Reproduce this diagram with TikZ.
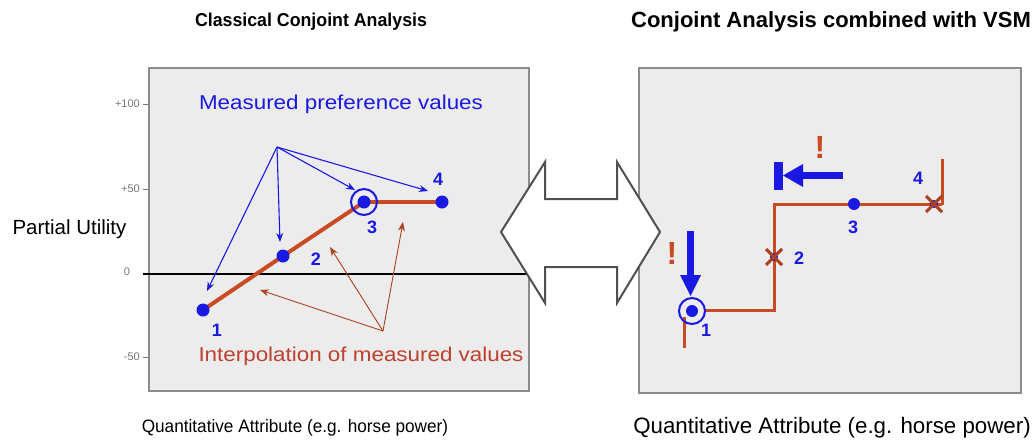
\documentclass[tikz,border=0pt]{standalone}
\usepackage{fontspec}
\setmainfont{Liberation Sans}
\usetikzlibrary{arrows.meta,calc}
\definecolor{cblue}{RGB}{25,25,225}
\definecolor{cred}{RGB}{200,75,35}
\definecolor{ctext}{RGB}{190,65,45}
\definecolor{panelfill}{RGB}{236,236,236}
\definecolor{framegray}{RGB}{140,140,140}
\definecolor{axisgray}{RGB}{120,120,120}
\definecolor{arrgray}{RGB}{80,80,80}
\tikzset{
  panelbox/.style={draw=framegray, line width=1.5pt, fill=panelfill, anchor=north west, inner sep=0pt},
  bigdot/.style={circle, fill=cblue, inner sep=0pt, minimum size=13pt},
  middot/.style={circle, fill=cblue, inner sep=0pt, minimum size=12pt},
  smalldot/.style={circle, fill=cblue, inner sep=0pt, minimum size=8pt},
  ring/.style={circle, draw=cblue, line width=2pt, inner sep=0pt, minimum size=26pt},
  numlbl/.style={text=cblue, font=\fontsize{18}{20}\selectfont\bfseries, inner sep=0pt},
  ticklbl/.style={text=axisgray, font=\fontsize{11}{13}\selectfont, inner sep=0pt},
  barrow/.style={cblue, line width=1.1pt, -{Stealth[length=9pt,width=7pt]}},
  rarrow/.style={cred!85!black, line width=0.9pt, -{Stealth[length=9pt,width=7pt]}},
  interp/.style={cred, line width=4pt},
  vsmline/.style={cred, line width=3pt},
  cross/.style={draw=cred!85!black, line width=3pt},
  bang/.style={text=cred, font=\fontsize{32}{34}\selectfont\bfseries, inner sep=0pt},
  bluesolid/.style={fill=cblue, draw=none},
}
\begin{document}
\begin{tikzpicture}[x=1pt,y=-1pt]
\useasboundingbox (0,0) rectangle (1035,442);
\fill[white] (0,0) rectangle (1035,442);

% titles
\node[font=\fontsize{18.6}{20}\selectfont\bfseries\addfontfeature{FakeStretch=0.955}, inner sep=0pt] (t1) at (311,22) {Classical Conjoint Analysis};
\node[font=\fontsize{22}{24}\selectfont\bfseries, inner sep=0pt] (t2) at (831,22) {Conjoint Analysis combined with VSM};

% panels
\node[panelbox, minimum width=380pt, minimum height=323pt] (P1) at (148,67) {};
\node[panelbox, minimum width=382pt, minimum height=325pt] (P2) at (638,67) {};

% axis labels
\node[font=\fontsize{20.5}{22}\selectfont, inner sep=0pt] (pu) at (69.5,229) {Partial Utility};
\node[font=\fontsize{18}{20}\selectfont\addfontfeature{FakeStretch=0.955}, inner sep=0pt] (q1) at (295,428) {Quantitative Attribute (e.g. horse power)};
\node[font=\fontsize{22.3}{24}\selectfont, inner sep=0pt] (q2) at (832,428) {Quantitative Attribute (e.g. horse power)};

% ticks
\coordinate (z0) at (143,274); \coordinate (z1) at (528,274);
\draw[black, line width=1.3pt] (z0) -- (z1);
\foreach \yy/\lab in {104/+100,189/+50,357/-50}{
  \draw[axisgray, line width=0.8pt] (143,\yy) -- (148,\yy);
  \node[ticklbl, anchor=east] at (140,\yy) {\lab};
}
\node[ticklbl] (zl) at (127,272) {0};

% left data
\coordinate (a1) at (203,310);
\coordinate (a2) at (283,256);
\coordinate (a3) at (364,202);
\coordinate (a4) at (442,202);
\draw[interp] (a1) -- (a2) -- (a3);
\draw[cred, line width=3.5pt] (a3) -- (a4);
\node[bigdot] (d1) at (a1) {};
\node[bigdot] (d2) at (a2) {};
\node[bigdot] (d3) at (a3) {};
\node[bigdot] (d4) at (a4) {};
\node[ring] (r3) at (a3) {};
\node[numlbl] (n1) at (217,330) {1};
\node[numlbl] (n2) at (316,259) {2};
\node[numlbl] (n3) at (372,227) {3};
\node[numlbl] (n4) at (438,179) {4};

\node[text=cblue, font=\fontsize{20}{22}\selectfont\addfontfeature{FakeStretch=1.12}, inner sep=0pt] (mpv) at (341,104) {Measured preference values};
\coordinate (bs) at (277,147);
\coordinate (bt1) at (207,291);
\coordinate (bt2) at (280,242);
\coordinate (bt3) at (355,190);
\coordinate (bt4) at (428,191);
\foreach \t in {bt1,bt2,bt3,bt4} \draw[barrow] (bs) -- (\t);

\node[text=ctext, font=\fontsize{20}{22}\selectfont\addfontfeature{FakeStretch=1.12}, inner sep=0pt] (imv) at (361,356) {Interpolation of measured values};
\coordinate (rs) at (383,331);
\coordinate (rt1) at (260,290);
\coordinate (rt2) at (330,247);
\coordinate (rt3) at (403,222);
\foreach \t in {rt1,rt2,rt3} \draw[rarrow] (rs) -- (\t);

% double arrow
\draw[arrgray, line width=2pt, fill=white, line join=miter]
  (501,232) -- (545,162) -- (545,199) -- (617,199) -- (617,162) -- (660,232)
  -- (617,303) -- (617,267) -- (545,267) -- (545,303) -- cycle;

% right data
\coordinate (b1) at (692,311);
\coordinate (b2) at (774,257);
\coordinate (b3) at (854,204);
\coordinate (b4) at (934,204);
\draw[vsmline] (684,348) -- (684,317);
\draw[vsmline] (704,310) -- (774,310) -- (774,204) -- (942,204);
\draw[vsmline] (942,159) -- (942,205);
\node[middot] (e1) at (b1) {};
\node[ring] (s1) at (b1) {};
\node[smalldot] (e2) at (b2) {};
\node[middot] (e3) at (b3) {};
\node[smalldot] (e4) at (b4) {};
\draw[cross] ($(b2)+(-8,-8)$) -- ($(b2)+(8,8)$) ($(b2)+(-8,8)$) -- ($(b2)+(8,-8)$);
\draw[cross] ($(b4)+(-8,-8)$) -- ($(b4)+(8,8)$) ($(b4)+(-8,8)$) -- ($(b4)+(8,-8)$);
\node[numlbl] (m1) at (706,330) {1};
\node[numlbl] (m2) at (799,258) {2};
\node[numlbl] (m3) at (853,227) {3};
\node[numlbl] (m4) at (918,178) {4};

% down arrow
\fill[bluesolid] (687,231) rectangle (694,276);
\fill[bluesolid] (680,275) -- (701,275) -- (690.5,296) -- cycle;
\node[bang] (x1) at (672,253) {!};

% left arrow with bar
\fill[bluesolid] (774,162) rectangle (783,190);
\fill[bluesolid] (801,172) rectangle (843,179);
\fill[bluesolid] (783,175.5) -- (803,164) -- (803,187) -- cycle;
\node[bang] (x2) at (820,147) {!};
\end{tikzpicture}
\end{document}
